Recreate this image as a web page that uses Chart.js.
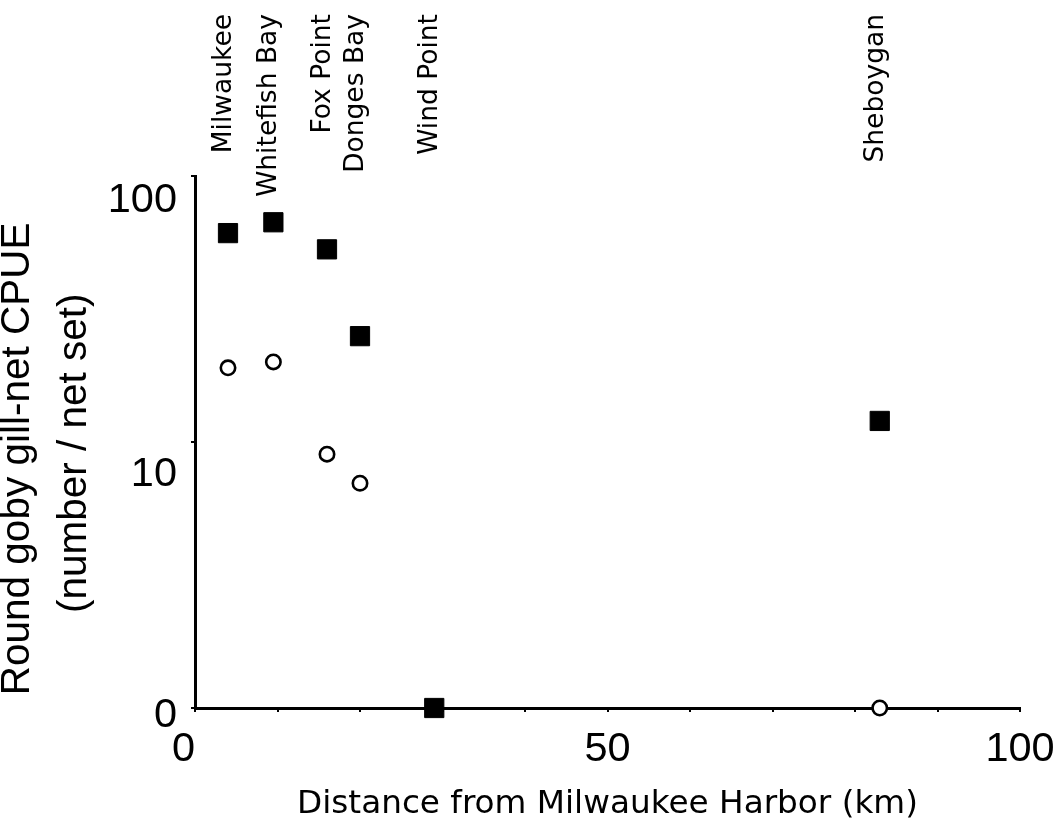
<!DOCTYPE html>
<html>
<head>
<meta charset="utf-8">
<script src="https://cdn.jsdelivr.net/npm/chart.js@4/dist/chart.umd.min.js"></script>
<style>
  html, body { margin: 0; padding: 0; background: #ffffff; }
  #wrap { width: 1060px; height: 836px; }
</style>
</head>
<body>
<div id="wrap"><canvas id="c" width="1060" height="836"></canvas></div>
<script>
// ---- data ----
const sites = ['Milwaukee', 'Whitefish Bay', 'Fox Point', 'Donges Bay', 'Wind Point', 'Sheboygan'];
const distanceKm = [4, 9.5, 16, 20, 29, 83];
const cpueFilled = [61, 67, 53, 25, 0, 12];   // filled squares
const cpueOpen   = [19, 20, 9, 7, 0, 0];      // open circles
const xTickLabels = ['0', '50', '100'];
const yTickValues = [0, 10, 100];
const yTickLabels = ['0', '10', '100'];

// a value of 0 sits on the floor of the log axis (1), which is labelled "0"
const toAxis = v => (v === 0 ? 1 : v);

const black = '#000000';
const tickFamily = '"Liberation Sans", Arial, sans-serif';
const textFamily = '"DejaVu Sans", Verdana, sans-serif';

const siteLabels = {
  id: 'siteLabels',
  afterDraw(chart) {
    const ctx = chart.ctx;
    const xs = chart.scales.x;
    ctx.save();
    ctx.font = '26.5px ' + textFamily;
    ctx.fillStyle = black;
    ctx.textAlign = 'right';
    ctx.textBaseline = 'middle';
    sites.forEach((name, i) => {
      const px = xs.getPixelForValue(distanceKm[i]);
      ctx.save();
      ctx.translate(px - 4, 14);
      ctx.rotate(-Math.PI / 2);
      ctx.fillText(name, 0, 0);
      ctx.restore();
    });
    ctx.restore();
  }
};

// per-tick vertical label shifts (style only)
const yLabelShift = [8, 33, 25];
const yTickSize = 41.5;

const noEdgePadding = s => { s.paddingLeft = 0; s.paddingRight = 0; s.paddingTop = 0; s.paddingBottom = 0; };

new Chart(document.getElementById('c'), {
  type: 'scatter',
  data: {
    datasets: [
      {
        label: 'filled',
        data: distanceKm.map((x, i) => ({ x: x, y: toAxis(cpueFilled[i]) })),
        pointStyle: 'rect',
        pointRadius: 13.6,
        pointHoverRadius: 13.6,
        backgroundColor: black,
        borderColor: black,
        borderWidth: 1,
        clip: false
      },
      {
        label: 'open',
        data: distanceKm.map((x, i) => ({ x: x, y: toAxis(cpueOpen[i]) })),
        pointStyle: 'circle',
        pointRadius: 7.2,
        pointHoverRadius: 7.2,
        backgroundColor: '#ffffff',
        borderColor: black,
        borderWidth: 2.6,
        clip: false
      }
    ]
  },
  options: {
    responsive: false,
    animation: false,
    devicePixelRatio: 1,
    layout: { padding: { left: 0, right: 40, top: 176, bottom: 0 } },
    plugins: {
      legend: { display: false },
      tooltip: { enabled: false }
    },
    scales: {
      x: {
        type: 'linear',
        position: 'bottom',
        min: 0,
        max: 100,
        afterFit: s => { s.height = 128; noEdgePadding(s); },
        ticks: {
          stepSize: 10,
          autoSkip: false,
          maxRotation: 0,
          padding: 13,
          color: black,
          font: { family: tickFamily, size: 41.5 },
          callback: v => {
            const s = String(v);
            if (!xTickLabels.includes(s)) return '';
            return v === 0 ? s + '  ' : s;
          }
        },
        grid: { drawOnChartArea: false, drawTicks: true, tickLength: 4, color: black, lineWidth: 2 },
        border: { display: true, color: black, width: 3 },
        title: {
          display: true,
          text: 'Distance from Milwaukee Harbor (km)',
          color: black,
          font: { family: textFamily, size: 32.7, lineHeight: 1.2 },
          padding: { top: 0, bottom: 12 }
        }
      },
      y: {
        type: 'logarithmic',
        position: 'left',
        min: 1,
        max: 100,
        afterFit: s => { s.width = 195; noEdgePadding(s); },
        afterBuildTicks: s => { s.ticks = yTickValues.map(v => ({ value: toAxis(v) })); },
        ticks: {
          autoSkip: false,
          padding: 14,
          color: black,
          font: ctx => ({ family: tickFamily, size: yTickSize, lineHeight: (2 * yLabelShift[ctx.index]) / yTickSize }),
          callback: (v, i) => ['', yTickLabels[i]]
        },
        grid: { drawOnChartArea: false, drawTicks: true, tickLength: 4, color: black, lineWidth: 2 },
        border: { display: true, color: black, width: 3 },
        title: {
          display: true,
          text: ['Round goby gill-net CPUE   ', '(number / net set)  '],
          color: black,
          font: { family: tickFamily, size: 40.5, lineHeight: 1.407 },
          padding: { top: -10.5, bottom: 0 }
        }
      }
    }
  },
  plugins: [siteLabels]
});
</script>
</body>
</html>
